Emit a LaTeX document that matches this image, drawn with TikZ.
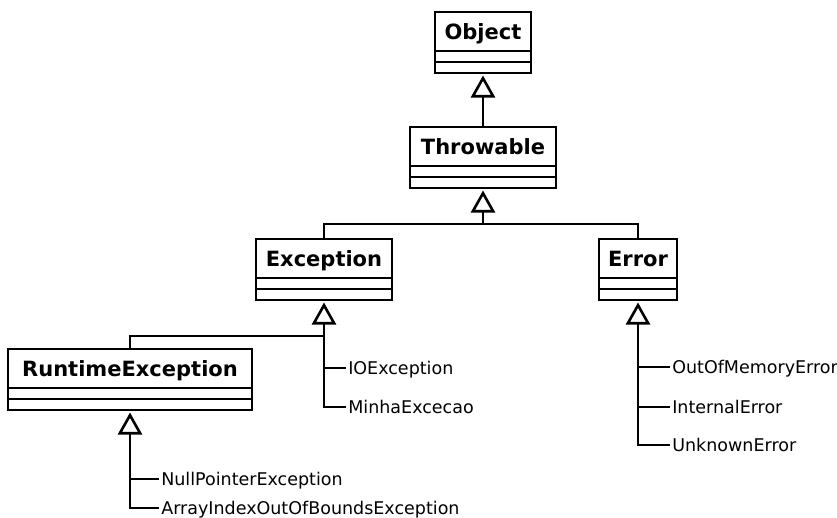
\documentclass[tikz,border=0pt]{standalone}
\usepackage{fontspec}
\setmainfont{DejaVu Sans}
\usetikzlibrary{arrows.meta,calc}
\newcommand\umlcls[5]{% name, text, x left, y top, width
  \node[classbox, minimum width=#5pt] (#1) at (#3,#4) {};
  \node[cname] (#1-t) at ($(#1.north)+(0,19.5)$) {#2};
  \draw ($(#1.north west)+(0,39)$) -- ($(#1.north east)+(0,39)$);
  \draw ($(#1.north west)+(0,50)$) -- ($(#1.north east)+(0,50)$);
}
\begin{document}
\begin{tikzpicture}[x=1pt,y=-1pt,line width=2.6pt,
  classbox/.style={draw, line width=2.6pt, minimum height=61pt, inner sep=0pt, outer sep=0pt, anchor=north west},
  cname/.style={inner sep=0pt, font=\bfseries\fontsize{21}{24}\selectfont, text height=15.3pt, text depth=0pt},
  lbl/.style={anchor=west, inner sep=1pt, font=\fontsize{17.5}{20}\selectfont, text height=12.8pt, text depth=0pt},
  inh/.style={-{Triangle[open, length=22pt, width=24pt, line width=2.6pt]}, shorten >=2.5pt}]
\useasboundingbox (0,0) rectangle (837,517);

\umlcls{obj}{Object}{435}{12}{96}
\umlcls{thr}{Throwable}{410}{127}{146}
\umlcls{exc}{Exception}{256}{239}{136}
\umlcls{err}{Error}{599}{239}{78}
\umlcls{rt}{RuntimeException}{8}{349}{244}

\node[lbl] (ioe) at (346,368) {IOException};
\node[lbl] (mex) at (346,407) {MinhaExcecao};
\node[lbl] (npe) at (159,479) {NullPointerException};
\node[lbl] (aio) at (159,508) {ArrayIndexOutOfBoundsException};
\node[lbl] (oom) at (670,367) {OutOfMemoryError};
\node[lbl] (ie)  at (670,407) {InternalError};
\node[lbl] (ue)  at (670,445) {UnknownError};

\draw[inh] (thr.north) -- (obj.south);

\coordinate (j1) at (483,224);
\draw[inh] (exc.north) |- (j1) -- (thr.south);
\draw (err.north) |- (j1);

\coordinate (j2) at (324,336);
\draw[inh] (mex.west) -| (exc.south);
\draw (ioe.west) -- (ioe.west -| exc.south);
\draw (rt.north) |- (j2);

\draw[inh] (aio.west) -| (rt.south);
\draw (npe.west) -- (npe.west -| rt.south);

\draw[inh] (ue.west) -| (err.south);
\draw (oom.west) -- (oom.west -| err.south);
\draw (ie.west) -- (ie.west -| err.south);
\end{tikzpicture}
\end{document}
